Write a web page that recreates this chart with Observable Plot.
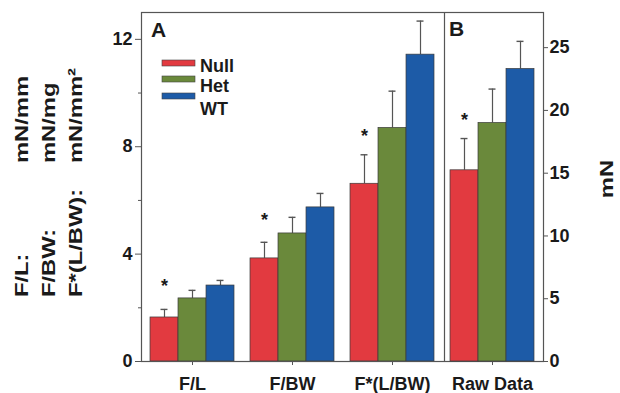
<!DOCTYPE html>
<html><head><meta charset="utf-8">
<script src="https://cdn.jsdelivr.net/npm/d3@7"></script>
<script src="https://cdn.jsdelivr.net/npm/@observablehq/plot@0.6"></script>
<style>
body{margin:0;background:#fff;}
#chart{position:relative;width:620px;height:393px;}
#chart svg{position:absolute;left:0;top:0;}
</style></head><body><div id="chart"></div>
<script>
// ---- data ----
const groupsA = ["F/L", "F/BW", "F*(L/BW)"];
const groupB = "Raw Data";
const genotypes = ["Null", "Het", "WT"];
const colors = ["#e23a40", "#6a893b", "#1d5ba7"];
// panel A means (left axis) and error (upper error bar length)
const nullA = [1.64, 3.84, 6.62];
const hetA  = [2.35, 4.77, 8.70];
const wtA   = [2.83, 5.74, 11.43];
const nullAerr = [0.30, 0.60, 1.08];
const hetAerr  = [0.30, 0.60, 1.37];
const wtAerr   = [0.19, 0.52, 1.25];
// panel B raw data (mN, right axis)
const rawMean = [15.23, 19.0, 23.3];
const rawErr  = [2.53, 2.7, 2.2];
// significance asterisks (value positions)
const starA = [2.94, 5.4, 8.54];
const starB = 19.5;
// ticks
const yTicksA = [0, 4, 8, 12];
const yMinorA = [2, 6, 10];
const yTicksB = [0, 5, 10, 15, 20, 25];
const yDomainA = [0, 13];
const yDomainB = [0, 27.8];

const allGroups = [...groupsA, groupB];
const meansA = [nullA, hetA, wtA];
const errsA = [nullAerr, hetAerr, wtAerr];

const rowsA = groupsA.flatMap((g, i) => genotypes.map((k, j) => ({group: g, genotype: k, j, value: meansA[j][i], hi: meansA[j][i] + errsA[j][i]})));
const rowsB = genotypes.map((k, j) => ({group: groupB, genotype: k, j, value: rawMean[j], hi: rawMean[j] + rawErr[j]}));
const starRowsA = groupsA.map((g, i) => ({group: g, y: starA[i]}));
const starRowsB = [{group: groupB, y: starB}];

const W = 620, H = 393;
const common = {
  width: W, height: H,
  marginLeft: 141, marginRight: 77, marginTop: 12, marginBottom: 32,
  style: {fontFamily: "'Liberation Sans', Arial, sans-serif", fontSize: "18px", fontWeight: "bold", background: "transparent", color: "#1a1a1a"}
};
const xScale = {type: "band", domain: allGroups, paddingInner: 0.164, paddingOuter: 0.082};
const bw = 84.02, sub = bw / 3;

function barMarks(rows) {
  const marks = [];
  genotypes.forEach((k, j) => {
    const r = rows.filter(d => d.j === j);
    const c = sub * j + sub / 2;
    marks.push(Plot.ruleX(r, {x: "group", y1: "value", y2: "hi", dx: (j - 1) * sub, stroke: "#555", strokeWidth: 1.2}));
    marks.push(Plot.tickY(r, {x: "group", y: "hi", insetLeft: c - 3.5, insetRight: bw - (c + 3.5), stroke: "#555", strokeWidth: 1.4}));
    marks.push(Plot.barY(r, {x: "group", y1: 0, y2: "value", fill: colors[j], stroke: "#3a3a3a", strokeWidth: 0.7, insetLeft: sub * j, insetRight: bw - sub * (j + 1)}));
  });
  return marks;
}

const plotA = Plot.plot({
  ...common,
  x: xScale,
  y: {domain: yDomainA},
  marks: [
    Plot.axisY(yTicksA, {anchor: "left", tickSize: 6, tickPadding: 3, label: null, stroke: "#555"}),
    Plot.axisY(yMinorA, {anchor: "left", tickSize: 3, tickFormat: () => "", label: null, stroke: "#555"}),
    Plot.axisX({anchor: "bottom", tickSize: 4, tickPadding: 12, label: null, stroke: "#555"}),
    ...barMarks(rowsA),
    Plot.text(starRowsA, {x: "group", y: "y", text: () => "*", dx: -sub, dy: 4, fontSize: 18}),
    Plot.ruleX([groupB], {dx: -48, stroke: "#555", strokeWidth: 1.2}),
    Plot.frame({stroke: "#555", strokeWidth: 1.2})
  ]
});

const plotB = Plot.plot({
  ...common,
  x: {...xScale, axis: null},
  y: {domain: yDomainB},
  marks: [
    Plot.axisY(yTicksB, {anchor: "right", tickSize: 4, tickPadding: 2, label: null, stroke: "#555"}),
    ...barMarks(rowsB),
    Plot.text(starRowsB, {x: "group", y: "y", text: () => "*", dx: -sub, dy: 4, fontSize: 18})
  ]
});

const chart = document.getElementById("chart");
chart.appendChild(plotA);
chart.appendChild(plotB);

// ---- annotations ----
const svgA = d3.select(plotA);
function label(svg, txt, transform, size, anchor = "start") {
  return svg.append("text").attr("transform", transform).attr("text-anchor", anchor)
    .attr("font-size", size).attr("font-weight", "bold").attr("fill", "#1a1a1a").text(txt);
}
label(svgA, "A", "translate(151,37)", 21);
label(svgA, "B", "translate(449,36)", 21);

// legend
const swY = [60, 76, 93];
const txY = [72, 92, 115];
genotypes.forEach((k, j) => {
  svgA.append("rect").attr("x", 162).attr("y", swY[j]).attr("width", 33).attr("height", 6)
    .attr("fill", colors[j]).attr("stroke", "#444").attr("stroke-width", 0.6);
  label(svgA, k, `translate(200,${txY[j]})`, 18);
});

// rotated left labels
const prefixes = ["F/L:", "F/BW:", "F*(L/BW):"];
const units = ["mN/mm", "mN/mg", "mN/mm²"];
const colX = [28, 55, 82];
prefixes.forEach((p, i) => {
  label(svgA, p, `translate(${colX[i]},297) rotate(-90) scale(1.25,1)`, 19);
  label(svgA, units[i], `translate(${colX[i]},163) rotate(-90) scale(1.25,1)`, 19);
});
// right label
label(d3.select(plotB), "mN", "translate(613,179) rotate(-90) scale(1.25,1)", 19, "middle");
</script>
</body></html>
